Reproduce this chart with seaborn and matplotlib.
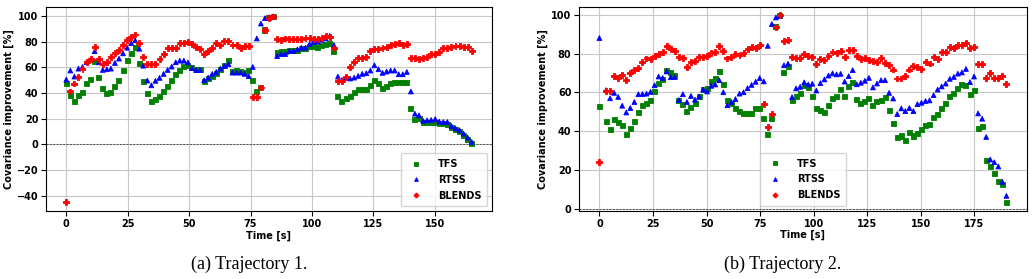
import matplotlib
matplotlib.use("Agg")
import matplotlib.pyplot as plt
import numpy as np
import pandas as pd
import seaborn as sns

plt.rcParams["font.family"] = ["DejaVu Sans"]
plt.rcParams["font.weight"] = "bold"
plt.rcParams["axes.labelweight"] = "bold"
plt.rcParams["font.size"] = 7

methods = ["TFS", "RTSS", "BLENDS"]
colors = {"TFS": "green", "RTSS": "blue", "BLENDS": "red"}
markers = {"TFS": "s", "RTSS": "^", "BLENDS": "P"}
marker_sizes = {"TFS": 13, "RTSS": 12, "BLENDS": 18}

# Trajectory 1, one sample every 1.65 s
time1 = np.arange(101) * 1.65
tfs1 = [
    47, 38, 33.6, 38, 40.6, 47, 50.4, 64.6, 52.2, 43.4,
    39.5, 40.6, 45, 49.4, 57.4, 65.1, 71, 75.2, 62.8, 48.8,
    39.8, 33.6, 35.1, 37.5, 41.1, 45.2, 49.4, 54.3, 57.4, 60.2,
    61, 59.7, 58.1, 58.1, 49.1, 51.2, 52.5, 55.3, 57.9, 61.2,
    64.9, 56.6, 57.1, 56.6, 55.8, 57.6, 49.4, 40.8, 44.5, 89,
    98.5, 99.5, 71.8, 72.6, 72.6, 72.9, 72.9, 73.1, 74.4, 74.7,
    76, 76, 75.7, 77, 78, 78.3, 72.6, 37, 33.3, 35.4,
    37.5, 40.6, 42.4, 42.6, 42.6, 46, 49.4, 47.5, 43.7, 45.2,
    47.3, 48.1, 48.1, 48.3, 47.8, 28.2, 19.4, 20.2, 16.8, 17.1,
    17.1, 16.8, 16.3, 16.5, 15.2, 13.2, 11.4, 10.1, 6.7, 3.6,
    0.3,
]
rtss1 = [
    50.4, 57.4, 52.7, 58.9, 60.2, 64, 66, 72.5, 63.8, 57.9,
    58.4, 58.9, 63.3, 66.7, 70.8, 75.2, 78.8, 80.9, 74.4, 61.2,
    49.6, 45.9, 49.4, 51.7, 54.8, 57.9, 60.5, 63.8, 65.1, 65.1,
    63.8, 59.4, 57.9, 57.9, 49.9, 51.9, 54.8, 56.3, 58.9, 61,
    62.5, 55.8, 55.8, 55.8, 54.8, 53, 60.2, 82.4, 94, 98.2,
    99, 99.7, 68.7, 70.3, 70.3, 72.6, 72.6, 73.9, 75.2, 75.2,
    78, 79.8, 79.8, 81.4, 82.4, 84.5, 77.3, 52.7, 50.1, 51.9,
    51.2, 51.9, 53.2, 54.8, 55.3, 57.4, 61.5, 58.4, 55.6, 56.6,
    57.4, 57.4, 54.5, 54.5, 56.3, 41.1, 23.8, 22.5, 18.3, 18.6,
    18.9, 19.6, 17.6, 17.3, 17.3, 14.2, 12.4, 10.9, 8.3, 5.2,
    1.8,
]
blends1 = [
    -45, 41.1, 47.3, 52.5, 58.4, 64, 66.4, 75.5, 66.7, 62.5,
    64.3, 67.7, 71.3, 73.6, 77.3, 81.1, 83.5, 85.5, 79, 68,
    62.8, 62.3, 62.3, 66.1, 70, 75.2, 74.9, 75.2, 78.6, 79,
    79.6, 77.8, 75.7, 74.4, 70.5, 72.4, 74.9, 78.6, 77, 80.1,
    80.1, 77.5, 77.5, 74.7, 76.2, 76.2, 36.7, 36.7, 44.2, 88.9,
    98.4, 99.5, 82.2, 81.4, 82.4, 81.7, 82.2, 81.7, 82.2, 82.7,
    82.7, 81.9, 81.7, 82.7, 84, 83.2, 74.9, 49.4, 49.4, 52.7,
    60.2, 63.8, 66.9, 67.4, 68.2, 72.6, 74.4, 73.9, 74.9, 76,
    77.5, 78.3, 78.8, 77.5, 78.3, 67.4, 67.4, 66.4, 66.9, 68.2,
    70, 70, 71.8, 74.9, 74.7, 75.5, 76.2, 76.2, 75.5, 75.5,
    72.6,
]

# Trajectory 2: first sample at 0 s, then regular samples from 3.1 s to 190 s
time2 = np.concatenate([[0.0], np.linspace(3.1, 190.0, 100)])
tfs2 = [
    53, 45, 41, 46.1, 44.7, 43.2, 38.2, 41.6, 45.1, 49.9,
    53.4, 54.4, 56, 60.4, 64.8, 66.8, 71.2, 70.5, 68.9, 55.8,
    53.9, 50.3, 52.5, 54.2, 57.8, 61.7, 62.3, 65.6, 67.4, 71,
    63.9, 55.8, 54.2, 52, 50.4, 49.1, 49.2, 49.2, 51.5, 52,
    46.4, 38.3, 46.4, 93.8, 99.4, 70.5, 73.4, 55.9, 58.1, 59.3,
    63.8, 62.8, 57.8, 51.6, 50.9, 49.6, 53.4, 56.8, 57.9, 61.7,
    57.7, 62.9, 65.1, 56.6, 54.1, 55.4, 56.8, 53.5, 55.6, 55.7,
    57.3, 50.9, 43.9, 36.9, 37.6, 35.4, 39.3, 37.6, 39, 41,
    43.1, 43.6, 47.2, 48.6, 51.8, 54.5, 58, 59.5, 62.2, 64.3,
    63.8, 59.1, 60.9, 41.4, 42.4, 25, 22.1, 18.3, 14.2, 12.5,
    3.6,
]
rtss2 = [
    88, 61.2, 57, 59.8, 57.7, 53.2, 49.7, 52, 55.1, 59.1,
    59.2, 59.4, 60.3, 63.7, 68.2, 67.5, 70.8, 67.9, 67.9, 56.1,
    59.1, 55.1, 58.2, 56.3, 57.9, 61.5, 60.5, 63.4, 64.1, 66.3,
    60.1, 53.4, 55.1, 56.6, 59.4, 60.1, 62.2, 63.9, 65.5, 67.4,
    65.7, 84, 95.2, 98.6, 99.5, 74, 74.8, 57.6, 62.1, 62.9,
    65.2, 64.1, 64.5, 61, 64.8, 66.7, 68.7, 69.8, 69.3, 69.6,
    65.6, 68.4, 71.5, 64.2, 65, 66, 67.5, 62.6, 64.6, 66.3,
    66.3, 59.8, 56.9, 48.9, 51.8, 50.4, 52, 50.4, 54, 54.7,
    55.6, 55.9, 58.6, 61.5, 63.1, 64.6, 67, 68, 69.7, 70.3,
    72.1, 65.3, 68.2, 49.2, 46.5, 37.1, 25.5, 24.1, 21.9, 14,
    6.8,
]
blends2 = [
    24.2, 60.8, 60.8, 68.7, 67.4, 69.1, 66.3, 69.8, 71.7, 72.7,
    75.6, 77.5, 77, 78.9, 80, 81, 83.8, 82.2, 81.5, 78.2,
    77.7, 72.9, 75.8, 76, 78.1, 78.4, 78.9, 80.3, 81, 83.8,
    81.3, 77.5, 78.1, 79.8, 79.3, 80.1, 82.4, 83.2, 82.9, 84.3,
    54, 42.1, 49, 93.8, 99.7, 86.4, 87.2, 78.3, 77.8, 77.6,
    80, 79, 78.4, 74.5, 77.4, 76.7, 78.8, 81, 80.1, 81.2,
    78.2, 81.9, 81.9, 78.8, 77.2, 77.9, 76.8, 76.2, 75.7, 77.8,
    75.2, 74, 71.8, 67.2, 67.2, 68.5, 71.8, 73.8, 73.2, 72.1,
    75.7, 74.9, 78.3, 77.4, 80.8, 81, 83.2, 83.1, 84.6, 84.6,
    85.3, 82.7, 83.6, 74.6, 74.6, 67.6, 70.1, 67.6, 67.6, 68.7,
    64.2,
]


def draw_panel(ax, time, tfs, rtss, blends, legend_loc):
    df = pd.DataFrame({
        "time": np.tile(time, 3),
        "value": np.concatenate([tfs, rtss, blends]),
        "method": np.repeat(methods, len(time)),
    })
    ax.axhline(0, color="0.25", lw=0.6, ls=(0, (2.5, 1.5)), zorder=1)
    sns.scatterplot(data=df, x="time", y="value", hue="method", style="method",
                    size="method", sizes=marker_sizes, palette=colors,
                    markers=markers, edgecolor="face", linewidth=0.6,
                    ax=ax, zorder=3)
    ax.grid(True, color="#c8c8c8", lw=0.8)
    ax.set_axisbelow(True)
    ax.set_xticks(np.arange(0, time.max() + 1, 25))
    ax.set_xlabel("Time [s]", labelpad=1)
    ax.set_ylabel("Covariance improvement [%]", labelpad=2)
    ax.tick_params(labelsize=7, pad=2)
    handles, labels = ax.get_legend_handles_labels()
    ax.legend(handles, labels, loc=legend_loc, fontsize=7, borderpad=0.6,
              handletextpad=1.2, labelspacing=0.6, markerscale=0.8)


fig = plt.figure(figsize=(10.34, 2.79), dpi=100)
ax1 = fig.add_axes([0.0445, 0.2427, 0.4313, 0.7323])
ax2 = fig.add_axes([0.56, 0.2437, 0.433, 0.7313])

draw_panel(ax1, time1, tfs1, rtss1, blends1, "lower right")
draw_panel(ax2, time2, tfs2, rtss2, blends2, "lower center")
ax2.set_ylim(-1, 104)

fig.text(0.241, 0.052, "(a) Trajectory 1.", ha="center", va="center",
         family="Liberation Serif", fontweight="normal", fontsize=13)
fig.text(0.757, 0.052, "(b) Trajectory 2.", ha="center", va="center",
         family="Liberation Serif", fontweight="normal", fontsize=13)

fig.savefig("out.png", dpi=100)
